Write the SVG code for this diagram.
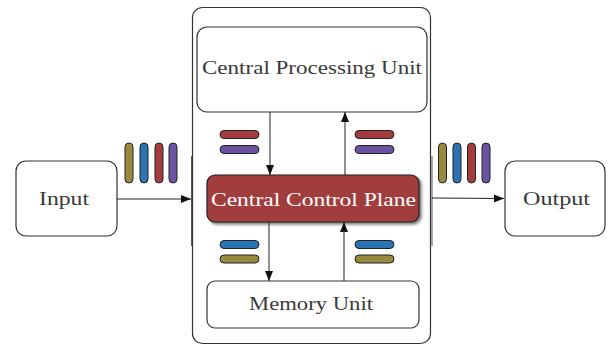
<svg xmlns="http://www.w3.org/2000/svg" width="609" height="345" viewBox="0 0 609 345">
  <defs>
    <marker id="arrow" viewBox="0 0 10 8" refX="10" refY="4" markerWidth="10" markerHeight="8" markerUnits="userSpaceOnUse" orient="auto">
      <path d="M0,0 L10,4 L0,8 Z" fill="#111"/>
    </marker>
    <filter id="shadow" x="-10%" y="-20%" width="125%" height="150%">
      <feGaussianBlur in="SourceAlpha" stdDeviation="1.6"/>
      <feOffset dx="1.5" dy="2" result="b"/>
      <feComponentTransfer><feFuncA type="linear" slope="0.55"/></feComponentTransfer>
      <feMerge><feMergeNode/><feMergeNode in="SourceGraphic"/></feMerge>
    </filter>
  </defs>
  <style>
    .box { fill: #fff; stroke: #333; stroke-width: 1.2; }
    .label { font-family: "Liberation Serif", "DejaVu Serif", serif; font-size: 19px; fill: #3a3a3a; text-anchor: middle; }
    .edge { fill: none; stroke: #222; stroke-width: 1; marker-end: url(#arrow); }
    .pill { stroke: #222; stroke-width: 1; }
    .olive { fill: #978a3f; }
    .blue { fill: #2b73b2; }
    .red { fill: #a33d3d; }
    .purple { fill: #6c52a3; }
  </style>

  <!-- enclosing frame -->
  <g id="frame">
    <rect class="box" x="192.5" y="7.5" width="238" height="336" rx="10"/>
    <line x1="191.5" y1="156" x2="191.5" y2="246" stroke="#555" stroke-width="1"/>
    <line x1="432" y1="156" x2="432" y2="246" stroke="#555" stroke-width="1"/>
  </g>

  <g id="input">
    <rect class="box" x="16" y="161" width="101" height="75" rx="10"/>
    <text class="label" x="64" y="205" textLength="50" lengthAdjust="spacingAndGlyphs">Input</text>
  </g>

  <g id="output">
    <rect class="box" x="505" y="161" width="100" height="75" rx="10"/>
    <text class="label" x="556.5" y="205" textLength="67" lengthAdjust="spacingAndGlyphs">Output</text>
  </g>

  <g id="cpu">
    <rect class="box" x="197" y="27" width="230" height="85" rx="10"/>
    <text class="label" x="312" y="74" textLength="220" lengthAdjust="spacingAndGlyphs">Central Processing Unit</text>
  </g>

  <g id="ccp">
    <rect x="207" y="175" width="212" height="47" rx="8" fill="#a23e3d" stroke="#222" stroke-width="1.2" filter="url(#shadow)"/>
    <text class="label" x="313.5" y="205.5" fill="#fff" style="fill:#fff" textLength="205" lengthAdjust="spacingAndGlyphs">Central Control Plane</text>
  </g>

  <g id="memory">
    <rect class="box" x="207" y="281" width="212" height="47" rx="8"/>
    <text class="label" x="311" y="310" textLength="124" lengthAdjust="spacingAndGlyphs">Memory Unit</text>
  </g>

  <!-- token bars -->
  <g id="tokens-in">
    <rect class="pill olive" x="125" y="143" width="8" height="40" rx="4"/>
    <rect class="pill blue" x="140" y="143" width="8" height="40" rx="4"/>
    <rect class="pill red" x="155" y="143" width="8" height="40" rx="4"/>
    <rect class="pill purple" x="169" y="143" width="8" height="40" rx="4"/>
  </g>
  <g id="tokens-out">
    <rect class="pill olive" x="438.5" y="143" width="8" height="40" rx="4"/>
    <rect class="pill blue" x="453" y="143" width="8" height="40" rx="4"/>
    <rect class="pill red" x="467.5" y="143" width="8" height="40" rx="4"/>
    <rect class="pill purple" x="482" y="143" width="8" height="40" rx="4"/>
  </g>
  <g id="tokens-cpu">
    <rect class="pill red" x="220" y="130.5" width="39" height="8" rx="4"/>
    <rect class="pill purple" x="220" y="145.5" width="39" height="8" rx="4"/>
    <rect class="pill red" x="355" y="130.5" width="39" height="8" rx="4"/>
    <rect class="pill purple" x="355" y="145.5" width="39" height="8" rx="4"/>
  </g>
  <g id="tokens-mem">
    <rect class="pill blue" x="220" y="240.5" width="39" height="8" rx="4"/>
    <rect class="pill olive" x="220" y="255" width="39" height="8" rx="4"/>
    <rect class="pill blue" x="355" y="240.5" width="39" height="8" rx="4"/>
    <rect class="pill olive" x="355" y="255" width="39" height="8" rx="4"/>
  </g>

  <g id="connectors">
    <line class="edge" x1="117" y1="199" x2="191" y2="199"/>
    <line class="edge" x1="432" y1="198" x2="504" y2="198.5"/>
    <line class="edge" x1="270" y1="112" x2="270" y2="175"/>
    <line class="edge" x1="345" y1="175" x2="345" y2="112"/>
    <line class="edge" x1="269" y1="222" x2="269" y2="281"/>
    <line class="edge" x1="344" y1="281" x2="344" y2="222"/>
  </g>
</svg>
